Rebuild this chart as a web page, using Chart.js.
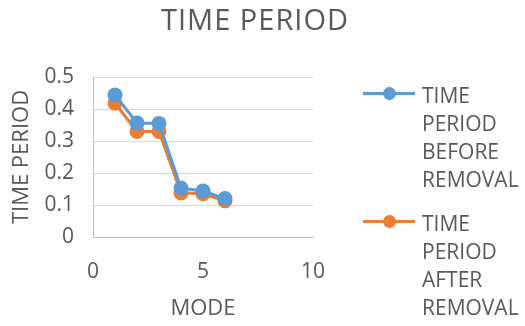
<!DOCTYPE html>
<html>
<head>
<meta charset="utf-8">
<script src="https://cdn.jsdelivr.net/npm/chart.js@4.4.1/dist/chart.umd.min.js"></script>
<style>
  html, body { margin: 0; padding: 0; background: #fff; }
  #wrap { position: relative; width: 525px; height: 326px; }
  #legend { position: absolute; left: 363px; top: 81px; font-family: "Open Sans", sans-serif; font-size: 21px; color: #595959; }
  .item { position: relative; padding-left: 59px; line-height: 28px; margin-bottom: 16px; white-space: nowrap; }
  .swatch { position: absolute; left: 0; top: 11px; width: 52px; height: 3px; }
  .swatch span { position: absolute; left: 20px; top: -5px; width: 13px; height: 13px; border-radius: 50%; }
</style>
</head>
<body>
<div id="wrap">
  <canvas id="myChart" width="525" height="326"></canvas>
  <div id="legend"></div>
</div>
<script>
// values
const modes = [1, 2, 3, 4, 5, 6];
const beforeRemoval = [0.444, 0.356, 0.355, 0.153, 0.144, 0.12];
const afterRemoval = [0.418, 0.33, 0.33, 0.138, 0.135, 0.113];
const seriesNames = [['TIME', 'PERIOD', 'BEFORE', 'REMOVAL'], ['TIME', 'PERIOD', 'AFTER', 'REMOVAL']];
const seriesColors = ['#5B9BD5', '#ED7D31'];

const textColor = '#595959';
const fontFamily = '"Open Sans", sans-serif';

function toPoints(values) {
    return modes.map((m, i) => ({ x: m, y: values[i] }));
}

// chart title drawn by hand so the plot area can be placed freely
const titlePlugin = {
    id: 'topTitle',
    afterDraw(chart) {
        const ctx = chart.ctx;
        ctx.save();
        ctx.fillStyle = textColor;
        ctx.font = '29px ' + fontFamily;
        ctx.letterSpacing = '1px';
        ctx.textAlign = 'center';
        ctx.textBaseline = 'middle';
        ctx.fillText('TIME PERIOD', 255, 22);
        ctx.restore();
    }
};

const ctx = document.getElementById('myChart').getContext('2d');
const myChart = new Chart(ctx, {
    type: 'line',
    data: {
        datasets: [
            {
                label: seriesNames[0].join(' '),
                data: toPoints(beforeRemoval),
                borderColor: seriesColors[0],
                backgroundColor: seriesColors[0],
                borderWidth: 3,
                pointRadius: 6,
                pointHoverRadius: 6,
                tension: 0
            },
            {
                label: seriesNames[1].join(' '),
                data: toPoints(afterRemoval),
                borderColor: seriesColors[1],
                backgroundColor: seriesColors[1],
                borderWidth: 3,
                pointRadius: 6,
                pointHoverRadius: 6,
                tension: 0
            }
        ]
    },
    options: {
        responsive: false,
        animation: false,
        layout: { padding: { top: 77, right: 212, left: 0, bottom: 0 } },
        plugins: {
            legend: { display: false },
            tooltip: { enabled: false }
        },
        scales: {
            x: {
                type: 'linear',
                min: 0,
                max: 10,
                ticks: { stepSize: 5, color: textColor, font: { size: 21, family: fontFamily }, padding: 22, maxRotation: 0 },
                grid: { display: false, drawTicks: false },
                border: { color: '#bfbfbf', width: 1 },
                title: { display: true, text: 'MODE', color: textColor, font: { size: 22, family: fontFamily }, padding: { top: 2 } },
                afterFit(scale) { scale.height = 89; }
            },
            y: {
                min: 0,
                max: 0.5,
                ticks: {
                    stepSize: 0.1,
                    color: textColor,
                    font: { size: 21, family: fontFamily },
                    padding: 19,
                    callback: v => Number(v.toFixed(1)).toString()
                },
                grid: { color: '#d9d9d9', drawTicks: false },
                border: { color: '#bfbfbf', width: 1 },
                title: { display: true, text: 'TIME PERIOD', color: textColor, font: { size: 22, family: fontFamily }, padding: { top: 9, bottom: 0 } },
                afterFit(scale) { scale.width = 93; }
            }
        }
    },
    plugins: [titlePlugin]
});

// legend built from the same names and colours
const legendBox = document.getElementById('legend');
seriesNames.forEach((lines, i) => {
    const item = document.createElement('div');
    item.className = 'item';
    item.innerHTML = '<div class="swatch" style="background:' + seriesColors[i] + '"><span style="background:' + seriesColors[i] + '"></span></div>' + lines.join('<br>');
    legendBox.appendChild(item);
});
</script>
</body>
</html>
